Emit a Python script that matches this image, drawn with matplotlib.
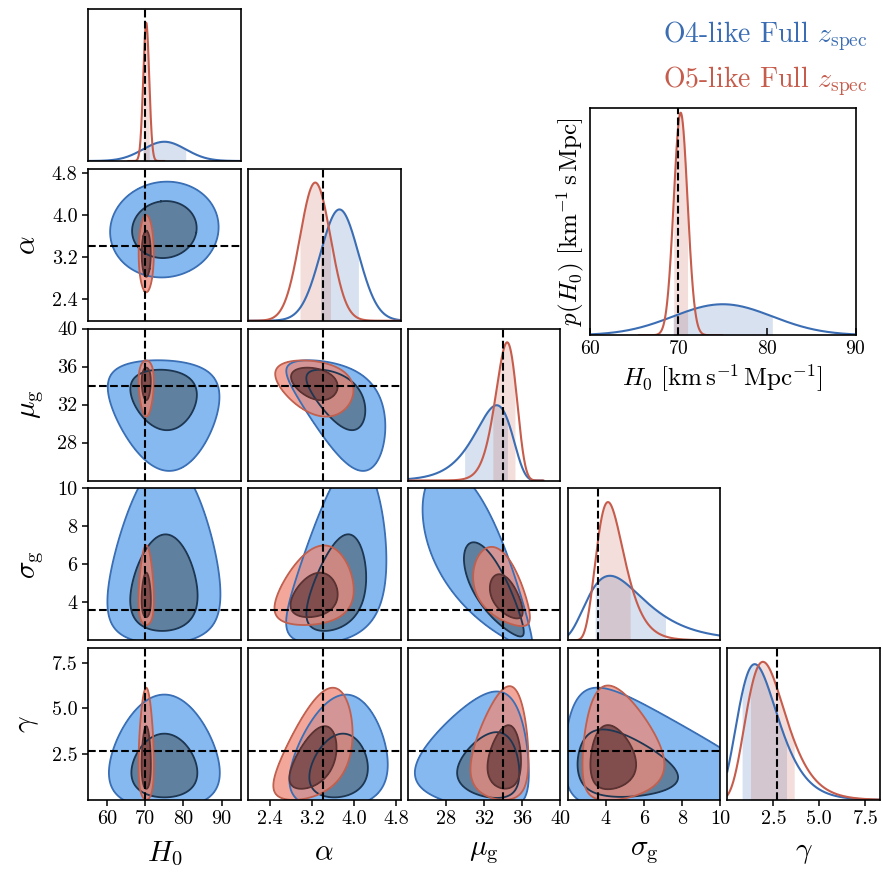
import numpy as np
import matplotlib
matplotlib.use('Agg')
import matplotlib.pyplot as plt

plt.rcParams['font.family'] = 'serif'
plt.rcParams['font.serif'] = ['cmr10']
plt.rcParams['mathtext.fontset'] = 'cm'
plt.rcParams['axes.formatter.use_mathtext'] = True
plt.rcParams['axes.linewidth'] = 1.2

labels = [r'$H_0$', r'$\alpha$', r'$\mu_{\rm g}$', r'$\sigma_{\rm g}$', r'$\gamma$']
truths = [70.0, 3.4, 34.0, 3.6, 2.7]
ranges = [(55, 95), (1.98, 4.88), (24, 40), (2, 10), (0, 8.3)]
ticks = [[60, 70, 80, 90], [2.4, 3.2, 4.0, 4.8], [28, 32, 36, 40], [4, 6, 8, 10], [2.5, 5.0, 7.5]]
tick_fmt = ['%d', '%.1f', '%d', '%d', '%.1f']

# marginal summaries: location, scale, skew
o4_loc = [75.0, 3.72, 32.6, 4.91, 1.83]
o4_scale = [5.6, 0.36, 2.2, 1.79, 1.19]
o4_skew = [0.0, 0.0, -0.35, 0.42, 0.30]
o5_loc = [70.25, 3.26, 34.2, 4.35, 2.27]
o5_scale = [0.78, 0.29, 1.15, 0.80, 1.17]
o5_skew = [0.0, 0.0, -0.20, 0.30, 0.30]
# pair correlations, rho[i][j] for row i > column j
o4_rho = [[], [0.05], [-0.10, -0.55], [0.05, 0.40, -0.80], [0.0, 0.15, 0.0, -0.20]]
o5_rho = [[], [0.0], [0.0, -0.30], [0.0, 0.25, -0.55], [0.0, 0.50, 0.10, 0.0]]

levels_2d = [0.68, 0.96]

runs = [
    dict(loc=o4_loc, scale=o4_scale, skew=o4_skew, rho=o4_rho, line='#3a6db3',
         fill=['#85b9f0', '#60809f'], edge=['#3a6fb5', '#1d3652'], alpha=1.0,
         name=r'O4-like Full $z_{\rm spec}$'),
    dict(loc=o5_loc, scale=o5_scale, skew=o5_skew, rho=o5_rho, line='#c65c4c',
         fill=['#f08a78', '#6a3a3c'], edge=['#c0604f', '#5a3232'], alpha=0.75,
         name=r'O5-like Full $z_{\rm spec}$'),
]


def warp(z, loc, s, a):
    if a == 0:
        return loc + s * z, s * np.ones_like(z)
    return loc + s * np.expm1(a * z) / a, s * np.exp(a * z)


def marginal(run, k):
    z = np.linspace(-6, 6, 2000)
    x, dx = warp(z, run['loc'][k], run['scale'][k], run['skew'][k])
    p = np.exp(-0.5 * z ** 2) / np.sqrt(2 * np.pi) / dx
    return x, p, np.abs(z) <= 1


def joint(run, i, j):
    zz = np.linspace(-5, 5, 400)
    x, dx = warp(zz, run['loc'][j], run['scale'][j], run['skew'][j])
    y, dy = warp(zz, run['loc'][i], run['scale'][i], run['skew'][i])
    Z1, Z2 = np.meshgrid(zz, zz)
    r = run['rho'][i][j]
    pz = np.exp(-(Z1 ** 2 - 2 * r * Z1 * Z2 + Z2 ** 2) / (2 * (1 - r ** 2)))
    px = pz / (dx[None, :] * dy[:, None])
    flat = px.ravel()
    order = np.argsort(flat)[::-1]
    cum = np.cumsum(pz.ravel()[order])
    cum /= cum[-1]
    lev = [flat[order][np.searchsorted(cum, q)] for q in levels_2d]
    return x, y, px, lev


def plot_1d(ax, k, top=1.1):
    peak = 0
    for run in runs:
        x, p, m = marginal(run, k)
        ax.fill_between(x[m], 0, p[m], color=run['line'], alpha=0.2, lw=0)
        ax.plot(x, p, color=run['line'], lw=1.5)
        peak = max(peak, p.max())
    ax.axvline(truths[k], color='k', ls='--', lw=1.5)
    ax.set_ylim(0, top * peak)


n = len(labels)
fig, axes = plt.subplots(n, n, figsize=(8.83, 8.73), dpi=100)
fig.subplots_adjust(left=0.0997, right=0.9966, bottom=0.0836, top=0.9897,
                    wspace=0.047, hspace=0.051)

for i in range(n):
    for j in range(n):
        ax = axes[i, j]
        if j > i:
            ax.axis('off')
            continue
        if i == j:
            plot_1d(ax, i)
            ax.set_yticks([])
        else:
            for run in runs:
                x, y, px, lev = joint(run, i, j)
                big = px.max() * 2
                if run['alpha'] < 1:
                    ax.contourf(x, y, px, levels=[lev[1], big], colors=[run['fill'][0]], alpha=run['alpha'])
                    ax.contourf(x, y, px, levels=[lev[0], big], colors=[run['fill'][1]], alpha=run['alpha'])
                else:
                    ax.contourf(x, y, px, levels=[lev[1], lev[0], big], colors=run['fill'])
                ax.contour(x, y, px, levels=[lev[1], lev[0]], colors=run['edge'], linewidths=1.3)
            ax.axvline(truths[j], color='k', ls='--', lw=1.5)
            ax.axhline(truths[i], color='k', ls='--', lw=1.5)
            ax.set_ylim(ranges[i])
            if j == 0:
                ax.set_yticks(ticks[i])
                ax.set_yticklabels([tick_fmt[i] % t for t in ticks[i]])
                ax.set_ylabel(labels[i], fontsize=21, labelpad=8)
            else:
                ax.set_yticks([])
        ax.set_xlim(ranges[j])
        if i == n - 1:
            ax.set_xticks(ticks[j])
            ax.set_xticklabels([tick_fmt[j] % t for t in ticks[j]])
            ax.set_xlabel(labels[j], fontsize=21, labelpad=8)
        else:
            ax.set_xticks([])
        ax.tick_params(direction='out', length=4, width=1.1, labelsize=14.5)

# H0 inset
ins = fig.add_axes([0.668, 0.616, 0.301, 0.26])
plot_1d(ins, 0, top=1.02)
ins.set_xlim(60, 90)
ins.set_xticks([60, 70, 80, 90])
ins.set_yticks([])
ins.tick_params(direction='in', length=5, width=1.1, labelsize=14)
ins.set_xlabel(r'$H_0\ [\mathrm{km\,s^{-1}\,Mpc^{-1}}]$', fontsize=18, labelpad=3)
ins.set_ylabel(r'$p(H_0)\ [\mathrm{km^{-1}\,s\,Mpc}]$', fontsize=18, labelpad=3)

for k, run in enumerate(runs):
    fig.text(0.982, 0.952 - 0.052 * k, run['name'], color=run['line'], fontsize=20,
             ha='right', va='baseline')

fig.savefig('out.png', dpi=100)
